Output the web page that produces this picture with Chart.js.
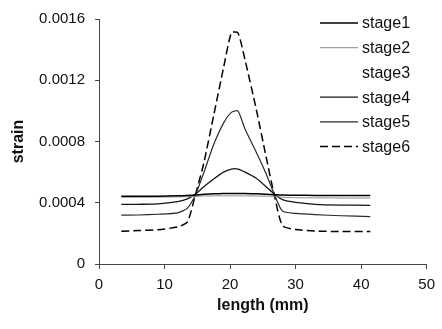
<!DOCTYPE html>
<html>
<head>
<meta charset="utf-8">
<script src="https://cdn.jsdelivr.net/npm/chart.js@4/dist/chart.umd.min.js"></script>
<style>
  body { margin: 0; background: #fff; }
  #wrap { width: 442px; height: 329px; }
</style>
</head>
<body>
<div id="wrap"><canvas id="chart" width="442" height="329"></canvas></div>
<script>
// length along specimen (mm)
let lengths = [3.4, 6, 9, 12, 13.5, 14.7, 16, 17.5, 19, 20.2, 21.2, 22.3, 24, 25.5, 26.8, 28, 30, 33, 37, 41.4];

let stage1 = [0.000442, 0.000442, 0.000443, 0.000445, 0.000447, 0.00045, 0.000455, 0.000458, 0.00046, 0.00046, 0.00046, 0.00046, 0.000458, 0.000455, 0.000452, 0.00045, 0.000449, 0.000448, 0.000448, 0.000447];
let stage2 = [0.000436, 0.000436, 0.000437, 0.000438, 0.00044, 0.000442, 0.000444, 0.000445, 0.000445, 0.000445, 0.000445, 0.000445, 0.000444, 0.000443, 0.000441, 0.000436, 0.000433, 0.000432, 0.000431, 0.000431];
let stage3 = [];
let stage4 = [0.000389, 0.00039, 0.000393, 0.000408, 0.000425, 0.000455, 0.000505, 0.000555, 0.0006, 0.00062, 0.00062, 0.0006, 0.00056, 0.000505, 0.000455, 0.00042, 0.000402, 0.00039, 0.000385, 0.000383];
let stage5 = [0.000319, 0.00032, 0.000325, 0.000334, 0.000365, 0.00045, 0.000597, 0.00078, 0.00092, 0.00099, 0.001, 0.00088, 0.00073, 0.00059, 0.00045, 0.000345, 0.00033, 0.000322, 0.000315, 0.00031];
let stage6 = [0.000214, 0.000218, 0.000224, 0.000242, 0.000275, 0.00045, 0.00066, 0.00097, 0.00128, 0.00151, 0.00151, 0.00133, 0.00101, 0.0007, 0.00044, 0.00025, 0.000225, 0.000215, 0.000212, 0.000212];

let stageNames = ["stage1", "stage2", "stage3", "stage4", "stage5", "stage6"];
let stageValues = [stage1, stage2, stage3, stage4, stage5, stage6];
let stageColors = ["#000000", "#8a8a8a", "rgba(0,0,0,0)", "#151515", "#2a2a2a", "#000000"];
let stageWidths = [1.5, 1, 0, 1.3, 1.2, 1.5];
let stageDash = [[], [], [], [], [], [8, 4]];

let xTicks = [0, 10, 20, 30, 40, 50];
let yTicks = [0, 0.0004, 0.0008, 0.0012, 0.0016];

let fontName = "'Liberation Sans', Arial, sans-serif";

// legend drawn inside the plot, top right
let insideLegend = {
    id: "insideLegend",
    afterDraw: function (chart) {
        let ctx = chart.ctx;
        ctx.save();
        ctx.font = "16px " + fontName;
        ctx.textBaseline = "middle";
        ctx.fillStyle = "#111";
        chart.data.datasets.forEach((ds, i) => {
            let y = 23 + i * 24.7;
            if (ds.borderWidth > 0) {
                ctx.beginPath();
                ctx.strokeStyle = ds.borderColor;
                ctx.lineWidth = ds.borderWidth;
                ctx.setLineDash(ds.borderDash);
                ctx.moveTo(320, y);
                ctx.lineTo(358, y);
                ctx.stroke();
            }
            ctx.setLineDash([]);
            ctx.fillText(ds.label, 362, y + 1);
        });
        ctx.restore();
    }
};

let context = document.getElementById("chart").getContext("2d");

let chart = new Chart(context, {
    type: "scatter",
    data: {
        datasets: stageValues.map((vals, i) => {
            return {
                label: stageNames[i],
                data: vals.map((v, j) => ({ x: lengths[j], y: v })),
                showLine: true,
                borderColor: stageColors[i],
                backgroundColor: stageColors[i],
                borderWidth: stageWidths[i],
                borderDash: stageDash[i],
                pointRadius: 0,
                tension: 0.2
            };
        })
    },
    options: {
        responsive: false,
        animation: false,
        layout: { padding: { top: 14, right: 11, bottom: 10, left: 0 } },
        plugins: {
            legend: { display: false },
            tooltip: { enabled: false }
        },
        scales: {
            x: {
                type: "linear",
                min: 0,
                max: 50,
                afterBuildTicks: axis => { axis.ticks = xTicks.map(v => ({ value: v })); },
                afterFit: axis => { axis.height = 55; },
                grid: { drawOnChartArea: false, tickLength: 5, color: "#444" },
                border: { color: "#444", width: 1 },
                ticks: { color: "#111", padding: 7, maxRotation: 0, font: { family: fontName, size: 15 } },
                title: { display: true, text: "length (mm)", color: "#111", padding: 4, font: { family: fontName, size: 16, weight: "bold" } }
            },
            y: {
                type: "linear",
                min: 0,
                max: 0.0016,
                afterBuildTicks: axis => { axis.ticks = yTicks.map(v => ({ value: v })); },
                afterFit: axis => { axis.width = 99; },
                grid: { drawOnChartArea: false, tickLength: 4, color: "#444" },
                border: { color: "#444", width: 1 },
                ticks: {
                    color: "#111",
                    padding: 10,
                    font: { family: fontName, size: 15 },
                    callback: v => v === 0 ? "0" : v.toFixed(4)
                },
                title: { display: true, text: "strain", color: "#111", padding: 9, font: { family: fontName, size: 16, weight: "bold" } }
            }
        }
    },
    plugins: [insideLegend]
});
</script>
</body>
</html>
